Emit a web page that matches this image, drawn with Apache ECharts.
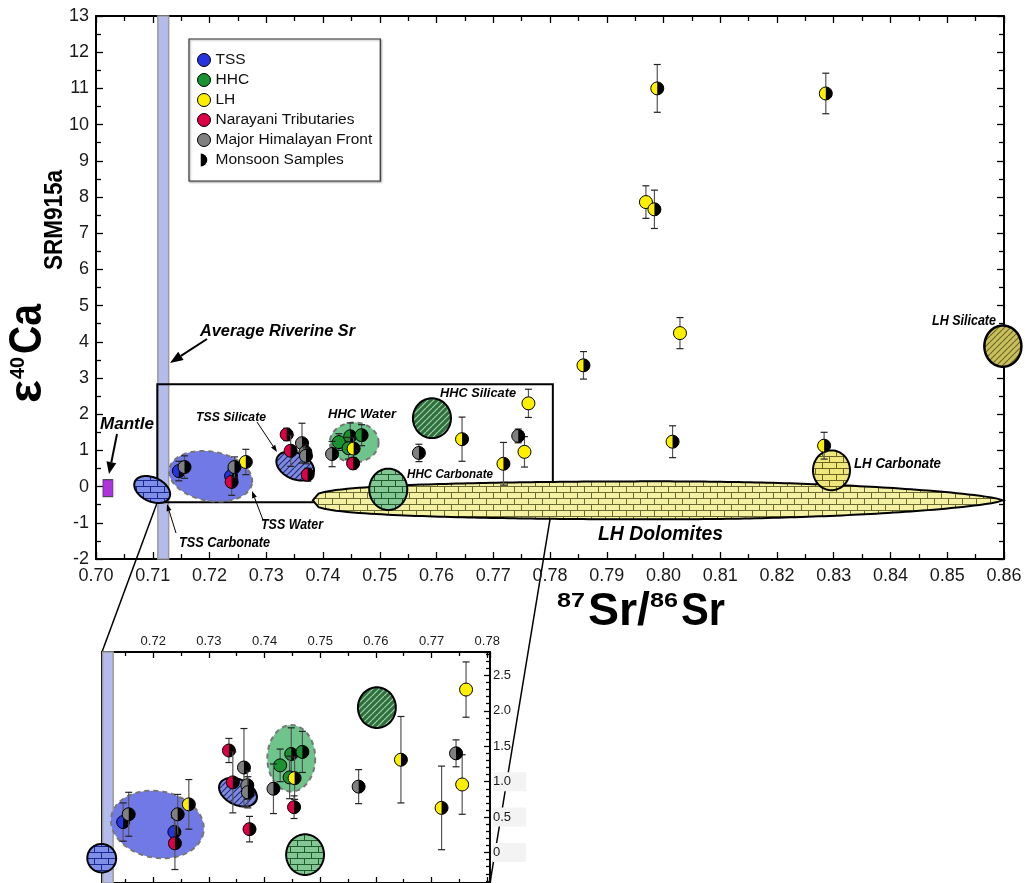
<!DOCTYPE html>
<html><head><meta charset="utf-8">
<script src="https://cdn.jsdelivr.net/npm/echarts@6/dist/echarts.min.js"></script>
<style>html,body{margin:0;padding:0;background:#fff}#c{width:1025px;height:883px}</style>
</head><body><div id="c"></div>
<script>
// ---------------- data ----------------
const xRangeMain = [0.70, 0.86];
const yRangeMain = [-2, 13];
const insetX = [0.7108, 0.7805];      // zoom window (87Sr/86Sr)
const insetY = [-0.43, 2.83];         // zoom window (eps40Ca)
const riverineSr = [0.7109, 0.7128];  // Average riverine Sr band
const mantle = [[0.7021, -0.04]];

const groupNames = ['TSS', 'HHC', 'LH', 'Narayani Tributaries', 'Major Himalayan Front'];
// [87Sr/86Sr, eps40Ca, +/- error, monsoon sample (1/0)]
const tssData = [
  [0.7146, 0.43, 0.27, 1],
  [0.7238, 0.29, 0.20, 1]
];
const hhcData = [
  [0.7428, 1.23, 0.23, 0],
  [0.7448, 1.39, 0.37, 1],
  [0.7445, 1.06, 0.30, 0],
  [0.7468, 1.42, 0.29, 1]
];
const lhData = [
  [0.7264, 0.68, 0.35, 1],
  [0.7454, 1.05, 0.30, 1],
  [0.7645, 1.31, 0.61, 1],
  [0.7718, 0.63, 0.59, 1],
  [0.7755, 0.96, 0.42, 0],
  [0.7762, 2.30, 0.39, 0],
  [0.7859, 3.35, 0.38, 1],
  [0.7969, 7.86, 0.45, 0],
  [0.7984, 7.66, 0.53, 1],
  [0.7989, 11.00, 0.66, 1],
  [0.8016, 1.24, 0.44, 1],
  [0.8029, 4.24, 0.43, 0],
  [0.8283, 1.13, 0.37, 1],
  [0.8286, 10.86, 0.56, 1]
];
const narayaniData = [
  [0.7239, 0.13, 0.37, 1],
  [0.7336, 1.44, 0.17, 1],
  [0.7343, 0.99, 0.43, 1],
  [0.7373, 0.33, 0.18, 1],
  [0.7453, 0.64, 0.16, 1]
];
const mhfData = [
  [0.7156, 0.54, 0.31, 1],
  [0.7244, 0.54, 0.28, 1],
  [0.7363, 1.20, 0.55, 1],
  [0.7369, 0.95, 0.20, 1],
  [0.7370, 0.85, 0.22, 1],
  [0.7416, 0.90, 0.35, 1],
  [0.7569, 0.93, 0.24, 1],
  [0.7744, 1.40, 0.19, 1]
];
const groupData = [tssData, hhcData, lhData, narayaniData, mhfData];

// end-member fields: [centre Sr, centre eps, half-width Sr, half-height eps]
const fieldNames = ['LH Dolomites', 'TSS Carbonate', 'TSS Water', 'TSS Silicate', 'HHC Water',
                    'HHC Silicate', 'HHC Carbonate', 'LH Carbonate', 'LH Silicate'];
const fieldsMain = [
  [0.7990, -0.38, 0.0608, 0.525],
  [0.7099, -0.08, 0.00335, 0.33],
  [0.7202, 0.285, 0.0074, 0.68],
  [0.7351, 0.57, 0.0035, 0.36],
  [0.7455, 1.22, 0.0043, 0.55],
  [0.7592, 1.89, 0.00335, 0.55],
  [0.7515, -0.075, 0.00335, 0.57],
  [0.8296, 0.45, 0.00326, 0.55],
  [0.8598, 3.88, 0.00326, 0.57]
];
const fieldsInset = [
  null,
  [0.71075, -0.08, 0.0026, 0.20],
  [0.72075, 0.396, 0.0084, 0.47],
  [0.73523, 0.851, 0.0036, 0.18],
  [0.7448, 1.33, 0.0043, 0.469],
  [0.76018, 2.045, 0.0034, 0.287],
  [0.74728, -0.03, 0.0034, 0.287],
  null,
  null
];

// ---------------- styles ----------------
const FONT = '"Liberation Sans", Arial, sans-serif';
const groupColors = ['#2534e0', '#1b9232', '#fcf000', '#dd0047', '#808080'];

function makePattern(kind, bg, fg) {
  const cv = document.createElement('canvas');
  const g = cv.getContext('2d');
  if (kind === 'brick') {
    cv.width = 14; cv.height = 12;
    g.fillStyle = bg; g.fillRect(0, 0, 14, 12);
    g.strokeStyle = fg; g.lineWidth = 1;
    g.beginPath();
    g.moveTo(0, 0.5); g.lineTo(14, 0.5);
    g.moveTo(0, 6.5); g.lineTo(14, 6.5);
    g.moveTo(3.5, 0.5); g.lineTo(3.5, 6.5);
    g.moveTo(10.5, 6.5); g.lineTo(10.5, 12);
    g.stroke();
  } else {
    cv.width = 6; cv.height = 6;
    g.fillStyle = bg; g.fillRect(0, 0, 6, 6);
    g.strokeStyle = fg; g.lineWidth = 1.2;
    g.beginPath();
    for (let k = -6; k <= 12; k += 6) { g.moveTo(k, 6); g.lineTo(k + 6, 0); }
    g.stroke();
  }
  return { image: cv, repeat: 'repeat' };
}
const fieldStyle = {
  'LH Dolomites': { fill: makePattern('brick', '#f5f1a4', '#6b6a30'), stroke: '#000', lw: 2, rot: 0, tear: true },
  'TSS Carbonate': { fill: makePattern('brick', '#7f8fe8', '#1b2790'), stroke: '#000', lw: 2, rot: 25 },
  'TSS Water': { fill: '#7079e6', stroke: '#777', lw: 2, dash: [5, 4], rot: 10 },
  'TSS Silicate': { fill: makePattern('hatch', '#7f8ad8', '#1f2a86'), stroke: '#000', lw: 2, rot: 25 },
  'HHC Water': { fill: '#6fc48c', stroke: '#777', lw: 2, dash: [5, 4], rot: 0 },
  'HHC Silicate': { fill: makePattern('hatch', '#2f6f3e', '#9fd2a9'), stroke: '#000', lw: 2, rot: 0 },
  'HHC Carbonate': { fill: makePattern('brick', '#83c795', '#1f5a2c'), stroke: '#000', lw: 2, rot: 0 },
  'LH Carbonate': { fill: makePattern('brick', '#efe67c', '#6a6420'), stroke: '#000', lw: 2, rot: 0 },
  'LH Silicate': { fill: makePattern('hatch', '#c9c05d', '#6f6824'), stroke: '#000', lw: 2.5, rot: 0 }
};

// ---------------- render helpers ----------------
function pointRender(color) {
  return function (params, api) {
    const x = api.value(0), y = api.value(1), e = api.value(2), m = api.value(3);
    const c = api.coord([x, y]);
    const t = api.coord([x, y + e]);
    const b = api.coord([x, y - e]);
    const r = 6.5, cw = 3.5;
    const ch = [
      { type: 'line', shape: { x1: c[0], y1: t[1], x2: c[0], y2: b[1] }, style: { stroke: '#555', lineWidth: 1.2 } },
      { type: 'line', shape: { x1: c[0] - cw, y1: t[1], x2: c[0] + cw, y2: t[1] }, style: { stroke: '#222', lineWidth: 1.2 } },
      { type: 'line', shape: { x1: c[0] - cw, y1: b[1], x2: c[0] + cw, y2: b[1] }, style: { stroke: '#222', lineWidth: 1.2 } },
      { type: 'circle', shape: { cx: c[0], cy: c[1], r: r }, style: { fill: color } }
    ];
    if (m) ch.push({ type: 'sector', shape: { cx: c[0], cy: c[1], r0: 0, r: r, startAngle: -Math.PI / 2, endAngle: Math.PI / 2, clockwise: true }, style: { fill: '#000' } });
    ch.push({ type: 'circle', shape: { cx: c[0], cy: c[1], r: r }, style: { fill: 'none', stroke: '#000', lineWidth: 1 } });
    return { type: 'group', children: ch };
  };
}
function fieldRender(names) {
  return function (params, api) {
    const st = fieldStyle[names[params.dataIndex]];
    const cx = api.value(0), cy = api.value(1);
    const c = api.coord([cx, cy]);
    const s = api.size([api.value(2) * 2, api.value(3) * 2], [cx, cy]);
    const rx = s[0] / 2, ry = s[1] / 2;
    const rot = st.rot * Math.PI / 180;
    const pts = [];
    if (st.tear) {
      const N = 120;
      for (let k = 0; k <= N; k++) {
        const u = -1 + 2 * k / N;
        const p = u < 0 ? 0.3 : 0.7;
        pts.push([c[0] + u * rx, c[1] - ry * Math.pow(Math.max(0, 1 - u * u), p)]);
      }
      for (let k = N - 1; k > 0; k--) {
        const u = -1 + 2 * k / N;
        const p = u < 0 ? 0.3 : 0.7;
        pts.push([c[0] + u * rx, c[1] + ry * Math.pow(Math.max(0, 1 - u * u), p)]);
      }
    } else {
      for (let k = 0; k < 96; k++) {
        const a = k / 96 * 2 * Math.PI;
        const dx = rx * Math.cos(a), dy = ry * Math.sin(a);
        pts.push([c[0] + dx * Math.cos(rot) - dy * Math.sin(rot), c[1] + dx * Math.sin(rot) + dy * Math.cos(rot)]);
      }
    }
    return { type: 'polygon', shape: { points: pts },
      style: { fill: st.fill, stroke: st.stroke, lineWidth: st.lw, lineDash: st.dash || null } };
  };
}
function bandRender(params, api) {
  const p0 = api.coord([api.value(0), 0]);
  const p1 = api.coord([api.value(1), 0]);
  const cs = params.coordSys;
  return { type: 'rect', shape: { x: p0[0], y: cs.y, width: p1[0] - p0[0], height: cs.height },
    style: { fill: '#b4bcec', stroke: '#9a9a9a', lineWidth: 1.5 } };
}
function boxRender(params, api) {
  const a = api.coord([api.value(0), api.value(3)]);
  const b = api.coord([api.value(1), api.value(2)]);
  return { type: 'rect', shape: { x: a[0], y: a[1], width: b[0] - a[0], height: b[1] - a[1] },
    style: { fill: 'none', stroke: '#000', lineWidth: 2 } };
}

// ---------------- axes ----------------
const axLine = { onZero: false, lineStyle: { color: '#000', width: 2 } };
function tickStyle(len) { return { inside: true, length: len, lineStyle: { color: '#000', width: 1.3 } }; }
function minor(n, len) { return { show: true, splitNumber: n, length: len, lineStyle: { color: '#000', width: 1.3 } }; }
const xAxes = [
  { gridIndex: 0, type: 'value', position: 'bottom', min: xRangeMain[0], max: xRangeMain[1], interval: 0.01,
    axisLine: axLine, axisTick: tickStyle(7), minorTick: minor(2, 5), splitLine: { show: false },
    axisLabel: { fontFamily: FONT, fontSize: 18, color: '#1a1a1a', margin: 8, formatter: v => v.toFixed(2) } },
  { gridIndex: 0, type: 'value', position: 'top', min: xRangeMain[0], max: xRangeMain[1], interval: 0.01,
    axisLine: axLine, axisTick: tickStyle(7), minorTick: minor(2, 5), splitLine: { show: false }, axisLabel: { show: false } },
  { gridIndex: 1, type: 'value', position: 'top', min: insetX[0], max: insetX[1], splitNumber: 7,
    axisLine: axLine, axisTick: tickStyle(6), minorTick: minor(2, 4), splitLine: { show: false },
    axisLabel: { fontFamily: FONT, fontSize: 13, color: '#1a1a1a', margin: 4, showMinLabel: false, showMaxLabel: false,
      formatter: v => v.toFixed(2) } },
  { gridIndex: 1, type: 'value', position: 'bottom', min: insetX[0], max: insetX[1], splitNumber: 7,
    axisLine: axLine, axisTick: tickStyle(6), minorTick: minor(2, 4), splitLine: { show: false }, axisLabel: { show: false } }
];
const yAxes = [
  { gridIndex: 0, type: 'value', position: 'left', min: yRangeMain[0], max: yRangeMain[1], interval: 1,
    axisLine: axLine, axisTick: tickStyle(7), minorTick: minor(2, 5), splitLine: { show: false },
    axisLabel: { fontFamily: FONT, fontSize: 18, color: '#1a1a1a', margin: 7 } },
  { gridIndex: 0, type: 'value', position: 'right', min: yRangeMain[0], max: yRangeMain[1], interval: 1,
    axisLine: axLine, axisTick: tickStyle(7), minorTick: minor(2, 5), splitLine: { show: false }, axisLabel: { show: false } },
  { gridIndex: 1, type: 'value', position: 'right', min: insetY[0], max: insetY[1], splitNumber: 7,
    axisLine: axLine, axisTick: tickStyle(6), minorTick: minor(5, 4), splitLine: { show: false },
    axisLabel: { fontFamily: FONT, fontSize: 13, color: '#1a1a1a', margin: 3, showMinLabel: false, showMaxLabel: false,
      formatter: v => { const t = Math.abs(v) < 1e-9 ? '0' : v.toFixed(1); return v <= 1.01 ? '{g|' + t + '}' : t; },
      rich: { g: { backgroundColor: '#f3f3f3', width: 33, height: 19, fontSize: 13, fontFamily: FONT, color: '#1a1a1a' } } } },
  { gridIndex: 1, type: 'value', position: 'left', min: insetY[0], max: insetY[1], splitNumber: 7,
    axisLine: axLine, axisTick: tickStyle(6), minorTick: minor(5, 4), splitLine: { show: false }, axisLabel: { show: false } }
];

// ---------------- series ----------------
const insetFieldNames = fieldNames.filter((n, i) => fieldsInset[i]);
const series = [
  { type: 'custom', name: 'riverine', xAxisIndex: 0, yAxisIndex: 0, z: 1, silent: true, renderItem: bandRender, data: [riverineSr] },
  { type: 'custom', name: 'riverine-inset', xAxisIndex: 2, yAxisIndex: 2, z: 1, silent: true, renderItem: bandRender, data: [riverineSr] },
  { type: 'custom', name: 'box', xAxisIndex: 0, yAxisIndex: 0, z: 2, silent: true, renderItem: boxRender,
    data: [[insetX[0], insetX[1], insetY[0], insetY[1]]] },
  { type: 'custom', name: 'fields', xAxisIndex: 0, yAxisIndex: 0, z: 3, silent: true, renderItem: fieldRender(fieldNames),
    data: fieldsMain },
  { type: 'custom', name: 'fields-inset', xAxisIndex: 2, yAxisIndex: 2, z: 3, silent: true, renderItem: fieldRender(insetFieldNames),
    data: fieldsInset.filter(f => f) },
  { type: 'scatter', name: 'Mantle', xAxisIndex: 0, yAxisIndex: 0, z: 4, symbol: 'rect', symbolSize: [10, 17],
    itemStyle: { color: '#9a00d6', borderColor: '#333', borderWidth: 1 }, data: mantle }
];
groupNames.forEach((n, i) => {
  series.push({ type: 'custom', name: n, xAxisIndex: 0, yAxisIndex: 0, z: 5, renderItem: pointRender(groupColors[i]),
    itemStyle: { color: groupColors[i] }, data: groupData[i] });
});
groupNames.forEach((n, i) => {
  const d = groupData[i].filter(p => p[0] >= insetX[0] && p[0] <= insetX[1] && p[1] >= insetY[0] && p[1] <= insetY[1]);
  series.push({ type: 'custom', name: n, xAxisIndex: 2, yAxisIndex: 2, z: 5, renderItem: pointRender(groupColors[i]),
    itemStyle: { color: groupColors[i] }, data: d });
});
series.push({ type: 'custom', name: 'Monsoon Samples', xAxisIndex: 0, yAxisIndex: 0, renderItem: () => null, data: [] });

const legendData = groupNames.map((n, i) => ({ name: n, icon: 'circle',
  itemStyle: { color: groupColors[i], borderColor: '#000', borderWidth: 1 } }));
legendData.push({ name: 'Monsoon Samples', icon: 'path://M0,0 A10,10 0 0,1 0,20 Z', itemStyle: { color: '#000', borderWidth: 0 } });

const chart = echarts.init(document.getElementById('c'));
chart.setOption({
  animation: false,
  backgroundColor: '#fff',
  grid: [
    { left: 96, top: 16, width: 908, height: 543 },
    { left: 102, top: 652, width: 388, height: 233 }
  ],
  xAxis: xAxes,
  yAxis: yAxes,
  legend: {
    left: 189, top: 39, orient: 'vertical', itemWidth: 13, itemHeight: 13, itemGap: 4,
    padding: [13, 8, 13, 8], borderColor: '#333', borderWidth: 1.2, backgroundColor: '#fff',
    shadowColor: 'rgba(0,0,0,0.35)', shadowBlur: 2, shadowOffsetX: 1, shadowOffsetY: 1,
    selectedMode: false, textStyle: { fontFamily: FONT, fontSize: 15.5, color: '#111' }, data: legendData
  },
  series: series
});

// ---------------- annotations ----------------
const mctx = document.createElement('canvas').getContext('2d');
function txt(text, x, baseline, size, targetW, weight, italic) {
  const font = (italic ? 'italic ' : '') + (weight || 'bold') + ' ' + size + 'px ' + FONT;
  mctx.font = font;
  const w = mctx.measureText(text).width;
  return { type: 'text', x: x, y: baseline - 0.31 * size, scaleX: targetW ? targetW / w : 1, z: 100,
    style: { text: text, font: font, fill: '#000', align: 'left', verticalAlign: 'middle', textAlign: 'left', textVerticalAlign: 'middle' } };
}
function arrow(x1, y1, x2, y2, lw, hl, hw) {
  const a = Math.atan2(y2 - y1, x2 - x1);
  const bx = x2 - hl * Math.cos(a), by = y2 - hl * Math.sin(a);
  const px = -Math.sin(a) * hw / 2, py = Math.cos(a) * hw / 2;
  return [
    { type: 'line', z: 100, shape: { x1: x1, y1: y1, x2: bx, y2: by }, style: { stroke: '#000', lineWidth: lw } },
    { type: 'polygon', z: 100, shape: { points: [[x2, y2], [bx + px, by + py], [bx - px, by - py]] }, style: { fill: '#000' } }
  ];
}
const p0 = chart.convertToPixel({ seriesIndex: 0 }, [insetX[0], insetY[0]]);
const p1 = chart.convertToPixel({ seriesIndex: 0 }, [insetX[1], insetY[0]]);
const q0 = chart.convertToPixel({ seriesIndex: 1 }, [insetX[0], insetY[1]]);
const q1 = chart.convertToPixel({ seriesIndex: 1 }, [insetX[1], insetY[0]]);

const graphics = [
  { type: 'line', z: -1, shape: { x1: p0[0], y1: p0[1], x2: q0[0], y2: q0[1] }, style: { stroke: '#000', lineWidth: 1.5 } },
  { type: 'line', z: -1, shape: { x1: p1[0], y1: p1[1], x2: q1[0], y2: q1[1] }, style: { stroke: '#000', lineWidth: 1.5 } },
  txt('Average Riverine Sr', 200, 337, 16, 155, 'bold', true),
  txt('Mantle', 100, 430, 16.5, 54, 'bold', true),
  txt('TSS Silicate', 196, 421, 12, 70, 'bold', true),
  txt('HHC Water', 328, 418, 13, 68, 'bold', true),
  txt('HHC Silicate', 440, 397, 13, 76, 'bold', true),
  txt('HHC Carbonate', 407, 478, 12.5, 86, 'bold', true),
  txt('TSS Water', 261, 530, 15, 62, 'bold', true),
  txt('TSS Carbonate', 179, 548, 15, 91, 'bold', true),
  txt('LH Dolomites', 598, 541, 21, 125, 'bold', true),
  txt('LH Carbonate', 854, 468, 14, 87, 'bold', true),
  txt('LH Silicate', 932, 325, 14, 64, 'bold', true),
  // x axis title
  txt('87', 557, 608, 21, 28, 'bold', false),
  txt('Sr/', 588, 627, 46, 62, 'bold', false),
  txt('86', 650, 608, 21, 28, 'bold', false),
  txt('Sr', 681, 627, 46, 44, 'bold', false),
  // y axis title (rotated)
  { type: 'group', x: 43, y: 403, rotation: Math.PI / 2, z: 100, children: [
    txt('\u03b5', 0, 0, 46, 23, 'bold', false),
    txt('40', 24, -18, 21, 22, 'bold', false),
    txt('Ca', 49, 0, 46, 50, 'bold', false),
    txt('SRM915a', 133, 20, 26, 100, 'bold', false)
  ] }
].concat(
  arrow(207, 339, 170, 363, 2, 13, 10),
  arrow(117, 434, 109, 474, 2, 12, 10),
  arrow(257, 422, 277, 452, 1, 7, 5),
  arrow(263, 520, 252, 491, 1, 7, 5),
  arrow(176, 533, 167, 504, 1, 7, 5)
);
chart.setOption({ graphic: graphics });
</script></body></html>
